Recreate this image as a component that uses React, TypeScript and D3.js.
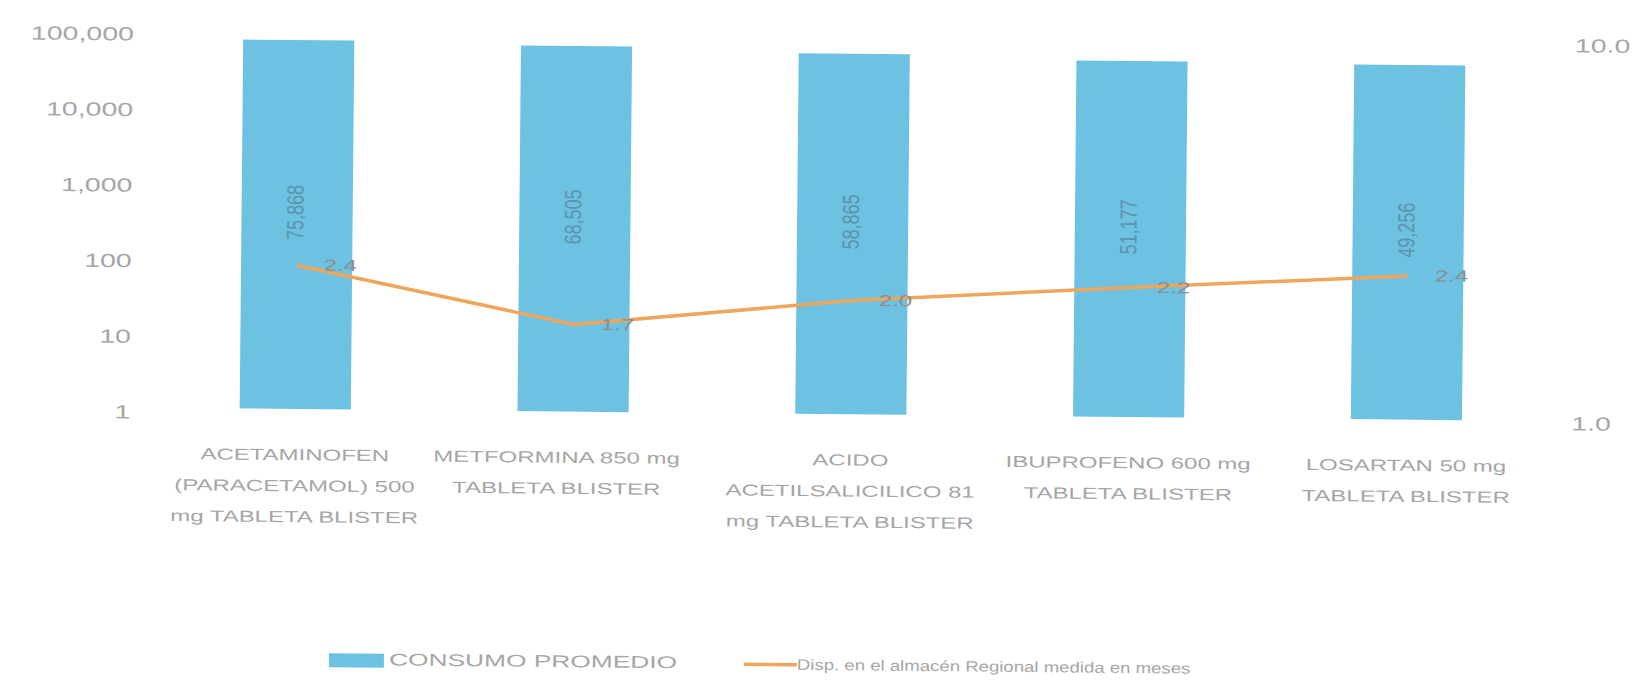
import React from "react";
import * as d3 from "d3";

const categories = ["ACETAMINOFEN", "METFORMINA", "ACIDO", "IBUPROFENO", "LOSARTAN"];
const categoryLines: string[][] = [
  ["ACETAMINOFEN", "(PARACETAMOL) 500", "mg TABLETA BLISTER"],
  ["METFORMINA 850 mg", "TABLETA BLISTER"],
  ["ACIDO", "ACETILSALICILICO 81", "mg TABLETA BLISTER"],
  ["IBUPROFENO 600 mg", "TABLETA BLISTER"],
  ["LOSARTAN 50 mg", "TABLETA BLISTER"],
];
const consumo = [75868, 68505, 58865, 51177, 49256];
const disponibilidad = [2.4, 1.7, 2.0, 2.2, 2.4];
const leftTicks = [1, 10, 100, 1000, 10000, 100000];
const rightTicks = [1, 10];
const legendBar = "CONSUMO PROMEDIO";
const legendLine = "Disp. en el almacén Regional medida en meses";

const W = 1636;
const H = 686;
const BAR = "#6dc1e1";
const LINE = "#eda65c";
const TXT = "#a6a6a6";
const FONT = "'Liberation Sans', Arial, sans-serif";
const SX = 1.5;

function SText({ x, y, anchor, size, fill, children, sx = SX }: any) {
  return (
    <g transform={`translate(${x},${y}) scale(${sx},1)`}>
      <text textAnchor={anchor} dominantBaseline="middle" fontSize={size} fill={fill} fontFamily={FONT}>
        {children}
      </text>
    </g>
  );
}

export default function App() {
  const x = d3.scaleBand<string>().domain(categories).range([157, 1546]).paddingInner(0.6).paddingOuter(0.3);
  const yL = d3.scaleLog().domain([1, 100000]).range([414, 36]);
  const yR = d3.scaleLog().domain([1, 10]).range([414, 36]);
  const fmtL = d3.format(",");
  const fmtR = d3.format(".1f");
  const cxOf = (i: number) => (x(categories[i]) as number) + x.bandwidth() / 2;
  const line = d3
    .line<number>()
    .x((_, i) => cxOf(i))
    .y((d) => yR(d));

  return (
    <svg width={W} height={H} style={{ position: "absolute", left: 0, top: 0, background: "#fff" }}>
      <rect width={W} height={H} fill="#fff" />
      <g transform={`rotate(0.55, ${W / 2}, ${H / 2})`}>
        {leftTicks.map((t) => (
          <SText key={t} x={131} y={yL(t) + 6} anchor="end" size={19} fill={TXT}>
            {fmtL(t)}
          </SText>
        ))}
        {rightTicks.map((t) => (
          <SText key={t} x={1572} y={yR(t) + 4} anchor="start" size={19} fill={TXT}>
            {fmtR(t)}
          </SText>
        ))}
        {consumo.map((v, i) => {
          const bx = x(categories[i]) as number;
          const top = yL(v);
          return <rect key={i} x={bx} y={top} width={x.bandwidth()} height={yL(1) - top} fill={BAR} />;
        })}
        {consumo.map((v, i) => {
          const cy = (yL(v) + yL(1)) / 2 - 12;
          return (
            <g key={i} transform={`translate(${cxOf(i)},${cy}) rotate(-90) scale(1,1.3)`}>
              <text textAnchor="middle" dominantBaseline="middle" fontSize={18} fill="#5b93ad" fontFamily={FONT}>
                {fmtL(v)}
              </text>
            </g>
          );
        })}
        <path d={line(disponibilidad) || ""} fill="none" stroke={LINE} strokeWidth={3.5} strokeLinejoin="round" />
        {disponibilidad.map((v, i) => (
          <SText key={i} x={cxOf(i) + 27} y={yR(v) + 1} anchor="start" size={16} fill="#8c8c8c">
            {fmtR(v)}
          </SText>
        ))}
        {categoryLines.map((lines, i) =>
          lines.map((l, j) => (
            <SText key={`${i}-${j}`} x={cxOf(i) - (i === 1 ? 16 : 0)} y={461 + j * 31} anchor="middle" size={16} fill={TXT}>
              {l}
            </SText>
          ))
        )}
        <rect x={332} y={658} width={55} height={14} fill={BAR} />
        <SText x={392} y={665} anchor="start" size={17} fill={TXT} sx={1.55}>
          {legendBar}
        </SText>
        <line x1={747} x2={800} y1={665} y2={665} stroke={LINE} strokeWidth={3.5} />
        <SText x={800} y={666} anchor="start" size={15} fill={TXT} sx={1.24}>
          {legendLine}
        </SText>
      </g>
    </svg>
  );
}
